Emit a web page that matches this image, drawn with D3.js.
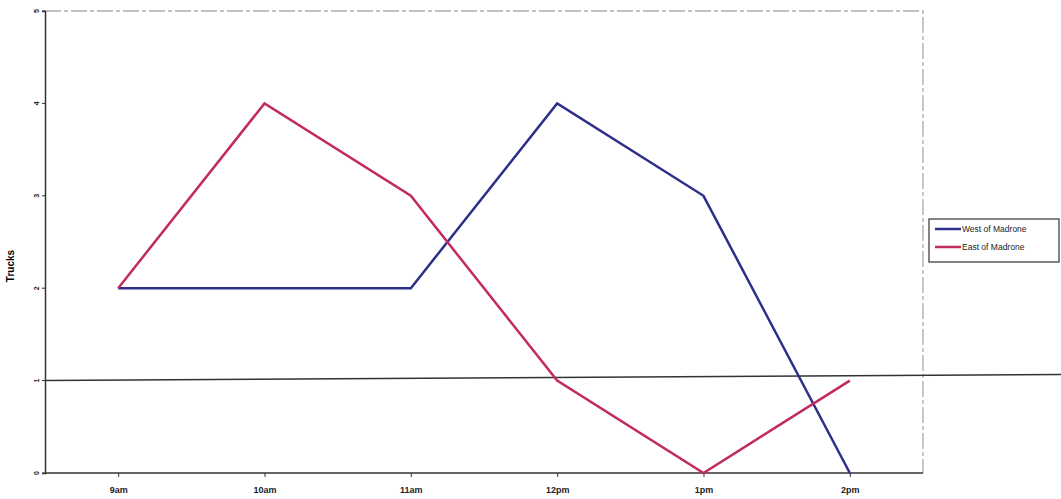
<!DOCTYPE html>
<html lang="en">
<head>
    <meta charset="UTF-8">
    <title>Trucks</title>
    <script src="https://cdnjs.cloudflare.com/ajax/libs/d3/7.8.5/d3.min.js"></script>
    <style>
        body{ margin:0; background:#fff; }
        .axis text{ font-family:'Liberation Sans', Arial, sans-serif; font-size:9px; font-weight:bold; fill:#222; }
        .axis path, .axis line{ stroke:#333; }
    </style>
</head>
<body>
    <div id="container"></div>
</body>
</html>
<script>
    // data
    var times = ["9am", "10am", "11am", "12pm", "1pm", "2pm"]
    var westOfMadrone = [2, 2, 2, 4, 3, 0]
    var eastOfMadrone = [2, 4, 3, 1, 0, 1]
    var yTicks = [0, 1, 2, 3, 4, 5]
    var seriesNames = ["West of Madrone", "East of Madrone"]
    var colors = ["#2d2f88", "#c22a62"]

    let width = 1061
    let height = 499
    let plotLeft = 45, plotRight = 923, plotTop = 11, plotBottom = 473

    let svg = d3.select("#container")
        .append("svg")
        .attr("width", width)
        .attr("height", height)

    let xScale = d3.scalePoint()
        .domain(times)
        .range([plotLeft, plotRight])
        .padding(0.5)

    let yScale = d3.scaleLinear()
        .domain([0, 5])
        .range([plotBottom, plotTop])

    // plot border (light, top + right)
    svg.append("path")
        .attr("d", "M" + plotLeft + "," + plotTop + "H" + plotRight + "V" + plotBottom)
        .attr("fill", "none")
        .attr("stroke", "#aaa")
        .attr("stroke-width", 1.3)
        .attr("stroke-dasharray", "16,3,4,3")

    // dark line at value 1, running past the plot
    svg.append("line")
        .attr("x1", plotLeft).attr("x2", width)
        .attr("y1", yScale(1)).attr("y2", yScale(1) - 6)
        .attr("stroke", "#333")
        .attr("stroke-width", 1.5)

    // x axis
    let xAxis = d3.axisBottom(xScale).tickSize(4).tickPadding(10)
    let gx = svg.append("g")
        .attr("class", "axis")
        .attr("transform", "translate(0," + plotBottom + ")")
        .call(xAxis)
    gx.select(".domain").attr("d", "M" + plotLeft + ",0H" + plotRight).attr("stroke-width", 1.5)

    // y axis
    let yAxis = d3.axisLeft(yScale).tickValues(yTicks).tickFormat(d3.format("d")).tickSize(3).tickPadding(4)
    let gy = svg.append("g")
        .attr("class", "axis")
        .attr("transform", "translate(" + plotLeft + ",0)")
        .call(yAxis)
    gy.select(".domain").attr("stroke-width", 1.5)
    gy.selectAll(".tick").attr("transform", null)
    gy.selectAll(".tick line")
        .attr("y1", d => yScale(d)).attr("y2", d => yScale(d))
    gy.selectAll("text")
        .attr("x", -8)
        .attr("y", d => yScale(d))
        .attr("transform", d => "rotate(-90,-8," + yScale(d) + ")")
        .attr("text-anchor", "middle")
        .attr("dy", "0.32em")
        .style("font-size", "7px")

    svg.append("text")
        .attr("transform", "translate(14,266) rotate(-90)")
        .attr("text-anchor", "middle")
        .style("font-family", "'Liberation Sans', Arial, sans-serif")
        .style("font-size", "10px")
        .style("font-weight", "bold")
        .text("Trucks")

    // lines
    let line = d3.line()
        .x((d, i) => xScale(times[i]))
        .y(d => yScale(d))

    ;[westOfMadrone, eastOfMadrone].forEach(function(s, k){
        svg.append("path")
            .datum(s)
            .attr("d", line)
            .attr("fill", "none")
            .attr("stroke", colors[k])
            .attr("stroke-width", 2.5)
            .attr("stroke-linejoin", "miter")
    })

    // legend
    let lg = svg.append("g").attr("transform", "translate(929,219)")
    lg.append("rect")
        .attr("width", 130).attr("height", 43)
        .attr("fill", "#fff")
        .attr("stroke", "#333")
        .attr("stroke-width", 1.2)
    seriesNames.forEach(function(n, i){
        let y = 10 + i * 18
        lg.append("line")
            .attr("x1", 6).attr("x2", 32)
            .attr("y1", y).attr("y2", y)
            .attr("stroke", colors[i])
            .attr("stroke-width", 2.5)
        lg.append("text")
            .attr("x", 33).attr("y", y)
            .attr("dy", "0.35em")
            .style("font-family", "'Liberation Sans', Arial, sans-serif")
            .style("font-size", "8.5px")
            .style("fill", "#222")
            .text(n)
    })
</script>
